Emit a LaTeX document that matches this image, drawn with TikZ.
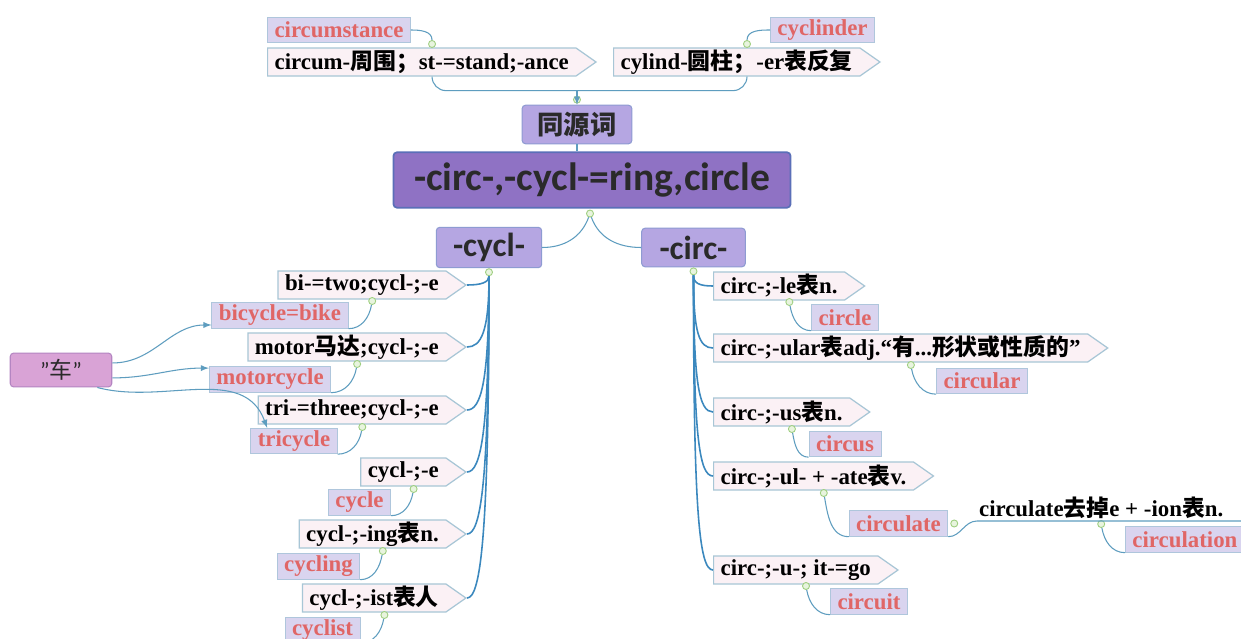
\documentclass[tikz,border=0pt]{standalone}
\usepackage{fontspec}
\setmainfont{Liberation Serif}
\setsansfont{Carlito}
\newfontfamily\cjk{Noto Sans CJK SC}
\newcommand\zh[1]{{\cjk #1}}
\usetikzlibrary{shapes.symbols,calc}

\definecolor{mainfill}{HTML}{8F72C4}
\definecolor{mainline}{HTML}{5B6FB8}
\definecolor{topicfill}{HTML}{B5A6E2}
\definecolor{topicline}{HTML}{8E9BD2}
\definecolor{chefill}{HTML}{D9A3D6}
\definecolor{cheline}{HTML}{B485C2}
\definecolor{pentfill}{HTML}{FBF1F5}
\definecolor{pentline}{HTML}{A8C6D6}
\definecolor{wordfill}{HTML}{D9D4EF}
\definecolor{wordline}{HTML}{AFC6DC}
\definecolor{wordred}{HTML}{E06666}
\definecolor{connblue}{HTML}{5E9DBF}
\definecolor{spineblue}{HTML}{3B88BE}
\definecolor{dotline}{HTML}{9FCF80}
\definecolor{dotfill}{HTML}{E8F4DE}
\definecolor{inkgray}{HTML}{2A2A2A}

\begin{document}
\begin{tikzpicture}[x=0.02cm, y=-0.02cm,
  pent/.style={signal, signal to=east, signal pointer angle=70, draw=pentline, fill=pentfill,
    line width=0.7pt, inner xsep=4pt, inner ysep=1pt, minimum height=16pt,
    font=\bfseries\fontsize{13}{15}\selectfont},
  word/.style={draw=wordline, fill=wordfill, text=wordred, line width=0.5pt, inner xsep=4pt,
    inner ysep=1pt, minimum height=14.5pt, font=\bfseries\fontsize{13}{15}\selectfont},
  topic/.style={draw=topicline, fill=topicfill, rounded corners=2pt, line width=0.6pt, text=inkgray},
  conn/.style={draw=connblue, line width=0.6pt},
  spine/.style={draw=spineblue, line width=0.9pt},
  dot/.style={circle, draw=dotline, fill=dotfill, line width=0.5pt, inner sep=0pt, minimum size=4pt}]

\fill[white] (0,0) rectangle (1241,639);
\useasboundingbox (0,0) rectangle (1241,639);

% centre topics
\node[topic, fill=mainfill, draw=mainline, line width=1pt, minimum width=226pt, minimum height=31.5pt,
  font=\sffamily\bfseries\fontsize{22.5}{26}\selectfont] (main) at (592,180) {-circ-,-cycl-=ring,circle};
\node[topic, minimum width=62.5pt, minimum height=22pt,
  font=\cjk\bfseries\fontsize{15}{18}\selectfont] (tyc) at (577,124.5) {同源词};
\node[topic, minimum width=60pt, minimum height=22pt,
  font=\sffamily\bfseries\fontsize{19}{22}\selectfont] (cycl) at (489,247.5) {-cycl-};
\node[topic, minimum width=59pt, minimum height=22pt,
  font=\sffamily\bfseries\fontsize{19}{22}\selectfont] (circ) at (693.5,247.5) {-circ-};

% cognates on top
\node[pent, anchor=west] (circum) at (267,62) {circum-\zh{周围；}st-=stand;-ance};
\node[pent, anchor=west] (cylind) at (613,62) {cylind-\zh{圆柱；}-er\zh{表反复}};
\node[word] (circumstance) at (339,30) {circumstance};
\node[word] (cyclinder) at (822.5,30) {cyclinder};

% -cycl- branch
\node[pent, anchor=east] (bi) at (467,285) {bi-=two;cycl-;-e};
\node[pent, anchor=east] (motor) at (467,347) {motor\zh{马达};cycl-;-e};
\node[pent, anchor=east] (tri) at (467,410) {tri-=three;cycl-;-e};
\node[pent, anchor=east] (cyc) at (467,472) {cycl-;-e};
\node[pent, anchor=east] (cycing) at (467,534) {cycl-;-ing\zh{表}n.};
\node[pent, anchor=east] (cycist) at (467,598) {cycl-;-ist\zh{表人}};

\node[word] (bikeword) at (280,315.5) {bicycle=bike};
\node[word] (motorword) at (270,379.5) {motorcycle};
\node[word] (triword) at (294,441) {tricycle};
\node[word] (cycleword) at (359.5,502.5) {cycle};
\node[word] (cyclingword) at (318.5,566.5) {cycling};
\node[word] (cyclistword) at (322.5,630) {cyclist};

\node[topic, fill=chefill, draw=cheline, minimum width=57.8pt, minimum height=19.3pt,
  font=\sffamily\fontsize{13}{15}\selectfont] (che) at (61,370) {"\zh{车}"};

% -circ- branch
\node[pent, anchor=west] (cle) at (713,286) {circ-;-le\zh{表}n.};
\node[pent, anchor=west] (cular) at (713,348) {circ-;-ular\zh{表}adj.“\zh{有}...\zh{形状或性质的}”};
\node[pent, anchor=west] (cus) at (713,412) {circ-;-us\zh{表}n.};
\node[pent, anchor=west] (cate) at (713,476) {circ-;-ul- + -ate\zh{表}v.};
\node[pent, anchor=west] (cuit) at (713,570) {circ-;-u-; it-=go};

\node[word] (circleword) at (845,317.5) {circle};
\node[word] (circularword) at (982,381) {circular};
\node[word] (circusword) at (845,444) {circus};
\node[word] (circulateword) at (898.5,523.5) {circulate};
\node[word] (circuitword) at (869,601.5) {circuit};
\node[anchor=south west, inner sep=1pt, font=\bfseries\fontsize{13}{15}\selectfont]
  (circultext) at (977,521) {circulate\zh{去掉}e + -ion\zh{表}n.};
\node[word, anchor=west] (circulationword) at (1125,539.5) {circulation};

% dots
\node[dot] (maindot) at ($(main.south)+(-2,5)$) {};
\node[dot] (cycldot) at ($(cycl.south)+(0,4)$) {};
\node[dot] (circdot) at ($(circ.south)+(0,4)$) {};
\node[dot] (tycdot) at ($(tyc.north)+(0,-5)$) {};
\node[dot] (circumdot) at ($(circum.west)!.5!(circum.east)+(0,-18)$) {};
\node[dot] (cylinddot) at ($(cylind.west)!.5!(cylind.east)+(0,-18)$) {};
\node[dot] (bidot) at ($(bi.west)!.5!(bi.east)+(0,16)$) {};
\node[dot] (motordot) at ($(motor.west)!.5!(motor.east)+(0,17)$) {};
\node[dot] (tridot) at ($(tri.west)!.5!(tri.east)+(0,17)$) {};
\node[dot] (cycdot) at ($(cyc.west)!.5!(cyc.east)+(0,17)$) {};
\node[dot] (cycingdot) at ($(cycing.west)!.5!(cycing.east)+(0,17)$) {};
\node[dot] (cycistdot) at ($(cycist.west)!.5!(cycist.east)+(0,17)$) {};
\node[dot] (cledot) at ($(cle.west)!.5!(cle.east)+(0,16)$) {};
\node[dot] (culardot) at ($(cular.west)!.5!(cular.east)+(0,17)$) {};
\node[dot] (cusdot) at ($(cus.west)!.5!(cus.east)+(0,17)$) {};
\node[dot] (catedot) at ($(cate.west)!.5!(cate.east)+(0,17)$) {};
\node[dot] (cuitdot) at ($(cuit.west)!.5!(cuit.east)+(0,16)$) {};
\node[dot] (circulatedot) at ($(circulateword.east)+(6,0)$) {};
\node[dot] (circultextdot) at ($(circultext.south)+(0,3)$) {};

% top cognates
\draw[conn] (tyc.south) -- (tyc.south |- main.north);
\draw[conn, rounded corners=8pt] ($(circum.west)!.5!(circum.east)+(0,15)$) |- ($(tyc.north)+(0,-14)$);
\draw[conn, rounded corners=8pt] ($(cylind.west)!.5!(cylind.east)+(0,15)$) |- ($(tyc.north)+(0,-14)$);
\draw[conn, -latex] ($(tyc.north)+(0,-14)$) -- (tyc.north);
\draw[conn] (circumdot) to[out=90,in=0] (circumstance.east);
\draw[conn] (cylinddot) to[out=90,in=180] (cyclinder.west);

% main to branches
\draw[conn] (maindot) to[out=-110,in=0] (cycl.east);
\draw[conn] (maindot) to[out=-70,in=180] (circ.west);

% -cycl- spine
\draw[spine] (cycldot) .. controls ($(cycldot)!.8!(cycldot |- bi.east)$) and ($(bi.east)+(14,0)$) .. (bi.east);
\draw[spine] (cycldot) .. controls ($(cycldot)!.8!(cycldot |- motor.east)$) and ($(motor.east)+(14,0)$) .. (motor.east);
\draw[spine] (cycldot) .. controls ($(cycldot)!.8!(cycldot |- tri.east)$) and ($(tri.east)+(14,0)$) .. (tri.east);
\draw[spine] (cycldot) .. controls ($(cycldot)!.8!(cycldot |- cyc.east)$) and ($(cyc.east)+(14,0)$) .. (cyc.east);
\draw[spine] (cycldot) .. controls ($(cycldot)!.8!(cycldot |- cycing.east)$) and ($(cycing.east)+(14,0)$) .. (cycing.east);
\draw[spine] (cycldot) .. controls ($(cycldot)!.8!(cycldot |- cycist.east)$) and ($(cycist.east)+(14,0)$) .. (cycist.east);

\draw[conn] (bidot) to[out=-100,in=0] (bikeword.south east);
\draw[conn] (motordot) to[out=-100,in=0] (motorword.south east);
\draw[conn] (tridot) to[out=-100,in=0] (triword.south east);
\draw[conn] (cycdot) to[out=-100,in=0] (cycleword.south east);
\draw[conn] (cycingdot) to[out=-100,in=0] (cyclingword.south east);
\draw[conn] (cycistdot) to[out=-100,in=0] (cyclistword.south east);

% "che" arrows
\draw[conn, -latex] ([yshift=4pt]che.east) to[out=0,in=180] ([yshift=-5.4pt]bikeword.west);
\draw[conn, -latex] ([yshift=-4.5pt]che.east) to[out=0,in=180] ([yshift=6.5pt]motorword.west);
\draw[conn, -latex] ([xshift=-8.5pt]che.south east) to[out=-15,in=110] ([xshift=9.5pt]triword.north west);

% -circ- spine
\draw[spine] (circdot) .. controls ($(circdot)!.8!(circdot |- cle.west)$) and ($(cle.west)+(-14,0)$) .. (cle.west);
\draw[spine] (circdot) .. controls ($(circdot)!.8!(circdot |- cular.west)$) and ($(cular.west)+(-14,0)$) .. (cular.west);
\draw[spine] (circdot) .. controls ($(circdot)!.8!(circdot |- cus.west)$) and ($(cus.west)+(-14,0)$) .. (cus.west);
\draw[spine] (circdot) .. controls ($(circdot)!.8!(circdot |- cate.west)$) and ($(cate.west)+(-14,0)$) .. (cate.west);
\draw[spine] (circdot) .. controls ($(circdot)!.8!(circdot |- cuit.west)$) and ($(cuit.west)+(-14,0)$) .. (cuit.west);

\draw[conn] (cledot) to[out=-80,in=180] (circleword.south west);
\draw[conn] (culardot) to[out=-80,in=180] (circularword.south west);
\draw[conn] (cusdot) to[out=-80,in=180] (circusword.south west);
\draw[conn] (catedot) to[out=-80,in=180] (circulateword.south west);
\draw[conn] (cuitdot) to[out=-80,in=180] (circuitword.south west);

% circulation
\draw[conn] (circulateword.south east) to[out=0,in=180] (circultext.south west) -- ++(270,0);
\draw[conn] (circultextdot) to[out=-80,in=180] (circulationword.south west);
\end{tikzpicture}
\end{document}
